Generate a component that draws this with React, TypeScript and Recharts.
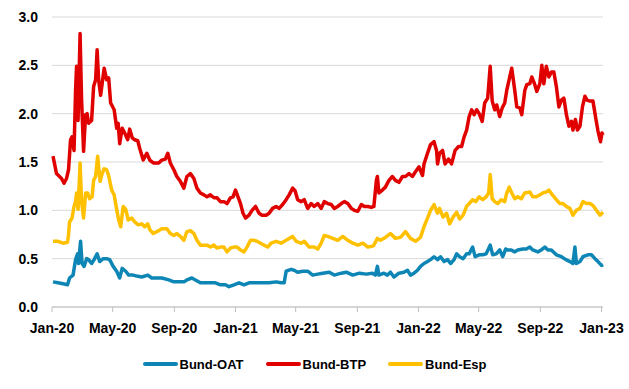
import { LineChart, Line, XAxis, YAxis, CartesianGrid } from "recharts";

// x values are days since 1 Jan 2020
const tickDays = [0, 121, 244, 366, 486, 609, 731, 851, 974, 1096];
const tickLabels = ["Jan-20", "May-20", "Sep-20", "Jan-21", "May-21", "Sep-21", "Jan-22", "May-22", "Sep-22", "Jan-23"];
const yTicks = [0, 0.5, 1, 1.5, 2, 2.5, 3];

const oatDays = [
  2, 12, 22, 31, 35, 42, 47, 51, 53, 57, 60, 64, 69, 73, 79, 84, 90, 95, 102, 109,
  115, 122, 129, 135, 140, 147, 153, 162, 169, 179, 191, 199,
  206, 219, 233, 243, 253, 263, 269, 279, 286, 296, 306, 316, 326, 336, 346, 353, 363, 373,
  383, 393, 403, 413,
  420, 433, 447, 457, 463, 467, 477, 483, 490, 500, 510, 520, 530, 540, 553, 563, 577, 587,
  600, 613, 627,
  639, 645, 649, 652, 662, 669, 675, 682, 692, 702, 709, 715, 722, 729, 735, 742, 749, 755,
  762, 769, 775, 782, 789, 795, 802, 807, 813, 820, 827, 832, 839, 844, 852,
  859, 866, 874, 879, 886, 893, 899, 905, 909, 916, 923, 929, 939, 946, 953, 959, 969, 976,
  983, 989, 996, 1006, 1016, 1025, 1033, 1039, 1043, 1046, 1053, 1059, 1069, 1076, 1083,
  1089, 1096, 1099,
];
const oatValues = [
  0.26, 0.25, 0.24, 0.23, 0.3, 0.33, 0.49, 0.55, 0.45, 0.68, 0.45, 0.42, 0.5, 0.49, 0.45, 0.49, 0.55, 0.47, 0.5, 0.5,
  0.49, 0.42, 0.37, 0.3, 0.4, 0.37, 0.33, 0.33, 0.32, 0.31, 0.33, 0.3,
  0.3, 0.3, 0.28, 0.26, 0.26, 0.26, 0.28, 0.3, 0.28, 0.25, 0.25, 0.25, 0.25, 0.23, 0.23, 0.21, 0.23, 0.25,
  0.23, 0.25, 0.25, 0.25,
  0.25, 0.25, 0.26, 0.25, 0.25, 0.37, 0.39, 0.38, 0.36, 0.37, 0.37, 0.33, 0.34, 0.35, 0.36, 0.33, 0.35, 0.36,
  0.33, 0.35, 0.34,
  0.35, 0.33, 0.42, 0.33, 0.35, 0.33, 0.36, 0.31, 0.35, 0.36, 0.38, 0.33, 0.35, 0.38, 0.42, 0.45, 0.47, 0.49,
  0.52, 0.49, 0.52, 0.47, 0.49, 0.45, 0.49, 0.55, 0.52, 0.5, 0.55, 0.55, 0.62, 0.52, 0.54,
  0.54, 0.55, 0.64, 0.54, 0.55, 0.59, 0.52, 0.6, 0.59, 0.59, 0.57, 0.59, 0.6, 0.6, 0.62, 0.59, 0.57, 0.59,
  0.62, 0.59, 0.59, 0.54, 0.52, 0.49, 0.47, 0.45, 0.62, 0.45, 0.47, 0.52, 0.54, 0.54, 0.5,
  0.47, 0.43, 0.44,
];

const btpDays = [
  2, 9, 19, 24, 29, 33, 37, 40, 44, 47, 49, 52, 56, 59, 63, 67, 70, 73, 79, 83,
  87, 90, 93, 97, 100, 104, 109, 113, 117, 124, 129, 132, 135, 140, 145, 151, 155, 160, 165, 171,
  175, 182, 189, 195, 202,
  213, 219, 226, 231, 236, 243, 249, 256, 263, 269, 276, 283, 289, 296, 303, 309, 316, 323, 329, 336,
  343, 349, 356, 361, 366, 371, 376, 381, 386, 393, 399, 406, 413, 419,
  427, 433, 440, 447, 453, 460, 467, 473, 480, 485, 490, 497, 503, 510, 517, 523, 530, 537, 543, 550,
  557, 563, 570, 577, 583, 590, 597, 603, 610, 617, 623, 630, 637,
  642, 647, 649, 652, 659, 665, 672, 679, 685, 692, 699, 705, 712, 719, 725, 732, 739, 742, 749, 755,
  762, 767, 769, 773, 779, 784, 791, 797, 804, 811, 817, 822, 827, 832, 837, 842, 847, 852,
  858, 863, 869, 874, 878, 883, 887, 893, 898, 903, 907, 913, 917, 923, 927, 933, 937, 943, 947, 953,
  957, 963, 967, 973, 977, 981, 986, 991, 996, 1001, 1006, 1011, 1016, 1021, 1026, 1031, 1036, 1039,
  1044, 1048, 1053, 1058, 1063, 1067, 1073, 1079, 1085, 1089, 1094, 1097, 1099,
];
const btpValues = [
  1.56, 1.38, 1.33, 1.28, 1.33, 1.42, 1.73, 1.76, 1.62, 2.24, 2.49, 1.93, 2.83, 2.14, 1.61, 1.99, 2.0, 1.9, 1.93, 2.28,
  2.35, 2.66, 2.35, 2.19, 2.31, 2.47, 2.35, 2.37, 2.11, 2.04, 1.85, 1.9, 1.69, 1.85, 1.8, 1.73, 1.84, 1.75, 1.73, 1.72,
  1.64, 1.52, 1.59, 1.52, 1.49,
  1.49, 1.52, 1.53, 1.59, 1.49, 1.42, 1.35, 1.3, 1.23, 1.35, 1.38, 1.33, 1.23, 1.18, 1.16, 1.14, 1.16, 1.13, 1.13, 1.09,
  1.09, 1.07, 1.13, 1.14, 1.21, 1.14, 1.07, 0.97, 0.92, 0.95, 1.0, 1.04, 0.97, 0.95,
  0.95, 0.97, 1.02, 1.04, 1.02, 1.06, 1.11, 1.16, 1.23, 1.2, 1.11, 1.09, 1.11, 1.02, 1.07, 1.04, 1.07, 1.02, 1.09, 1.07,
  1.06, 1.02, 1.04, 1.07, 1.09, 1.07, 1.02, 1.0, 0.99, 1.06, 1.04, 1.04, 1.03,
  1.04, 1.31, 1.35, 1.18, 1.21, 1.24, 1.31, 1.35, 1.31, 1.29, 1.35, 1.35, 1.38, 1.35, 1.4, 1.45, 1.36, 1.48, 1.59, 1.68,
  1.71, 1.62, 1.48, 1.59, 1.62, 1.48, 1.53, 1.48, 1.62, 1.66, 1.66, 1.76, 1.83, 1.97, 2.04, 1.99, 2.04, 2.0,
  1.92, 2.11, 2.16, 2.49, 2.13, 2.04, 2.09, 1.97, 2.06, 2.11, 2.24, 2.38, 2.47, 2.24, 2.07, 2.06, 1.99, 2.24, 2.3, 2.31,
  2.38, 2.3, 2.23, 2.31, 2.5, 2.31, 2.49, 2.38, 2.43, 2.43, 2.28, 2.07, 2.14, 2.16, 1.99, 1.87, 1.92, 1.83,
  1.94, 1.83, 1.87, 2.07, 2.18, 2.14, 2.13, 2.13, 1.94, 1.82, 1.71, 1.8, 1.78,
];

const espDays = [
  2, 12, 22, 31, 33, 35, 40, 44, 47, 49, 52, 56, 59, 63, 67, 71, 75, 80, 83, 87,
  91, 96, 100, 104, 109, 113, 119, 124, 129, 133, 137, 142, 147, 152, 159, 165, 172, 179, 185, 191,
  195, 202,
  213, 219, 229, 236, 243, 249, 256, 263, 269, 276, 283, 289, 296, 303, 309, 316, 323, 329, 336, 343,
  349, 356, 363, 369, 376, 383, 389, 396, 403, 409, 416,
  430, 437, 447, 457, 467, 480, 487, 497, 503, 513, 523, 530, 537, 543, 550, 560, 570, 580, 590, 600,
  610, 620, 630, 640,
  642, 649, 655, 665, 675, 685, 695, 705, 715, 725, 735, 742, 749, 755, 762, 769, 773, 780, 787, 793,
  800, 807, 813, 820, 827, 832, 839, 845, 852,
  859, 866, 871, 874, 878, 883, 889, 896, 903, 907, 912, 917, 923, 929, 936, 943, 953, 959, 966, 973,
  979, 986, 991, 998, 1006, 1013, 1019, 1026, 1033, 1039, 1046, 1053, 1059, 1066, 1073, 1079, 1086, 1093, 1099,
];
const espValues = [
  0.68, 0.68, 0.66, 0.67, 0.75, 0.88, 0.92, 1.04, 1.09, 1.18, 1.01, 1.49, 1.09, 0.92, 1.18, 1.18, 1.12, 1.14, 1.31, 1.35,
  1.56, 1.3, 1.38, 1.43, 1.42, 1.36, 1.21, 1.16, 1.01, 0.9, 0.83, 1.04, 1.01, 0.9, 0.92, 0.88, 0.85, 0.86, 0.83, 0.86,
  0.8, 0.76,
  0.79, 0.81, 0.81, 0.76, 0.74, 0.76, 0.73, 0.69, 0.78, 0.79, 0.76, 0.69, 0.64, 0.64, 0.64, 0.62, 0.64, 0.61, 0.62, 0.62,
  0.57, 0.61, 0.62, 0.62, 0.59, 0.57, 0.62, 0.69, 0.69, 0.68, 0.66,
  0.62, 0.66, 0.68, 0.66, 0.69, 0.73, 0.68, 0.66, 0.68, 0.62, 0.62, 0.6, 0.66, 0.74, 0.73, 0.71, 0.69, 0.73, 0.69, 0.66,
  0.64, 0.66, 0.62, 0.63,
  0.64, 0.71, 0.69, 0.72, 0.76, 0.71, 0.72, 0.78, 0.71, 0.68, 0.72, 0.83, 0.92, 1.0, 1.06, 0.97, 1.02, 0.93, 0.97, 0.86,
  0.93, 0.98, 0.91, 0.95, 1.04, 1.07, 1.11, 1.09, 1.14,
  1.11, 1.14, 1.18, 1.37, 1.12, 1.09, 1.07, 1.11, 1.09, 1.18, 1.24, 1.18, 1.12, 1.14, 1.12, 1.18, 1.19, 1.14, 1.14, 1.16,
  1.18, 1.19, 1.21, 1.16, 1.11, 1.07, 1.07, 1.04, 1.02, 0.95, 1.0, 1.02, 1.09, 1.07, 1.07, 1.05, 1.0, 0.95, 0.98,
];

const toRows = (days: number[], values: number[]) =>
  days.map((d, i) => ({ day: d, v: values[i] }));

const series = [
  { name: "Bund-OAT", color: "#0E86B5", data: toRows(oatDays, oatValues) },
  { name: "Bund-BTP", color: "#E00000", data: toRows(btpDays, btpValues) },
  { name: "Bund-Esp", color: "#FFC000", data: toRows(espDays, espValues) },
];

const font = "'Liberation Sans', Arial, sans-serif";

export default function App() {
  return (
    <div
      style={{
        position: "absolute",
        left: 0,
        top: 0,
        width: 629,
        height: 389,
        background: "#fff",
        fontFamily: font,
      }}
    >
      <LineChart width={629} height={389} margin={{ top: 17, right: 26, bottom: 52, left: 0 }}>
        <CartesianGrid vertical={false} stroke="#D9D9D9" />
        <XAxis
          type="number"
          dataKey="day"
          domain={[0, 1099]}
          ticks={tickDays}
          interval={0}
          height={30}
          stroke="#BFBFBF"
          tickSize={5}
          tickMargin={11}
          tick={{ fill: "#000", fontSize: 14, fontWeight: "bold", fontFamily: font }}
          tickFormatter={(d: number) => tickLabels[tickDays.indexOf(d)]}
        />
        <YAxis
          type="number"
          domain={[0, 3]}
          ticks={yTicks}
          width={52}
          axisLine={false}
          tickLine={false}
          tickMargin={8}
          tick={{ fill: "#000", fontSize: 14, fontWeight: "bold", fontFamily: font }}
          tickFormatter={(v: number) => v.toFixed(1)}
        />
        {series.map((s) => (
          <Line
            key={s.name}
            data={s.data}
            dataKey="v"
            name={s.name}
            type="linear"
            stroke={s.color}
            strokeWidth={3.5}
            strokeLinejoin="round"
            dot={false}
            isAnimationActive={false}
          />
        ))}
      </LineChart>
      <div
        style={{
          position: "absolute",
          left: 0,
          top: 356,
          width: 629,
          height: 16,
          display: "flex",
          justifyContent: "center",
          alignItems: "center",
          gap: 22,
        }}
      >
        {series.map((s) => (
          <div key={s.name} style={{ display: "flex", alignItems: "center" }}>
            <span
              style={{
                display: "inline-block",
                width: 35,
                height: 4,
                borderRadius: 2,
                background: s.color,
              }}
            />
            <span style={{ marginLeft: 2, fontSize: 13, fontWeight: "bold", color: "#000" }}>
              {s.name}
            </span>
          </div>
        ))}
      </div>
    </div>
  );
}
